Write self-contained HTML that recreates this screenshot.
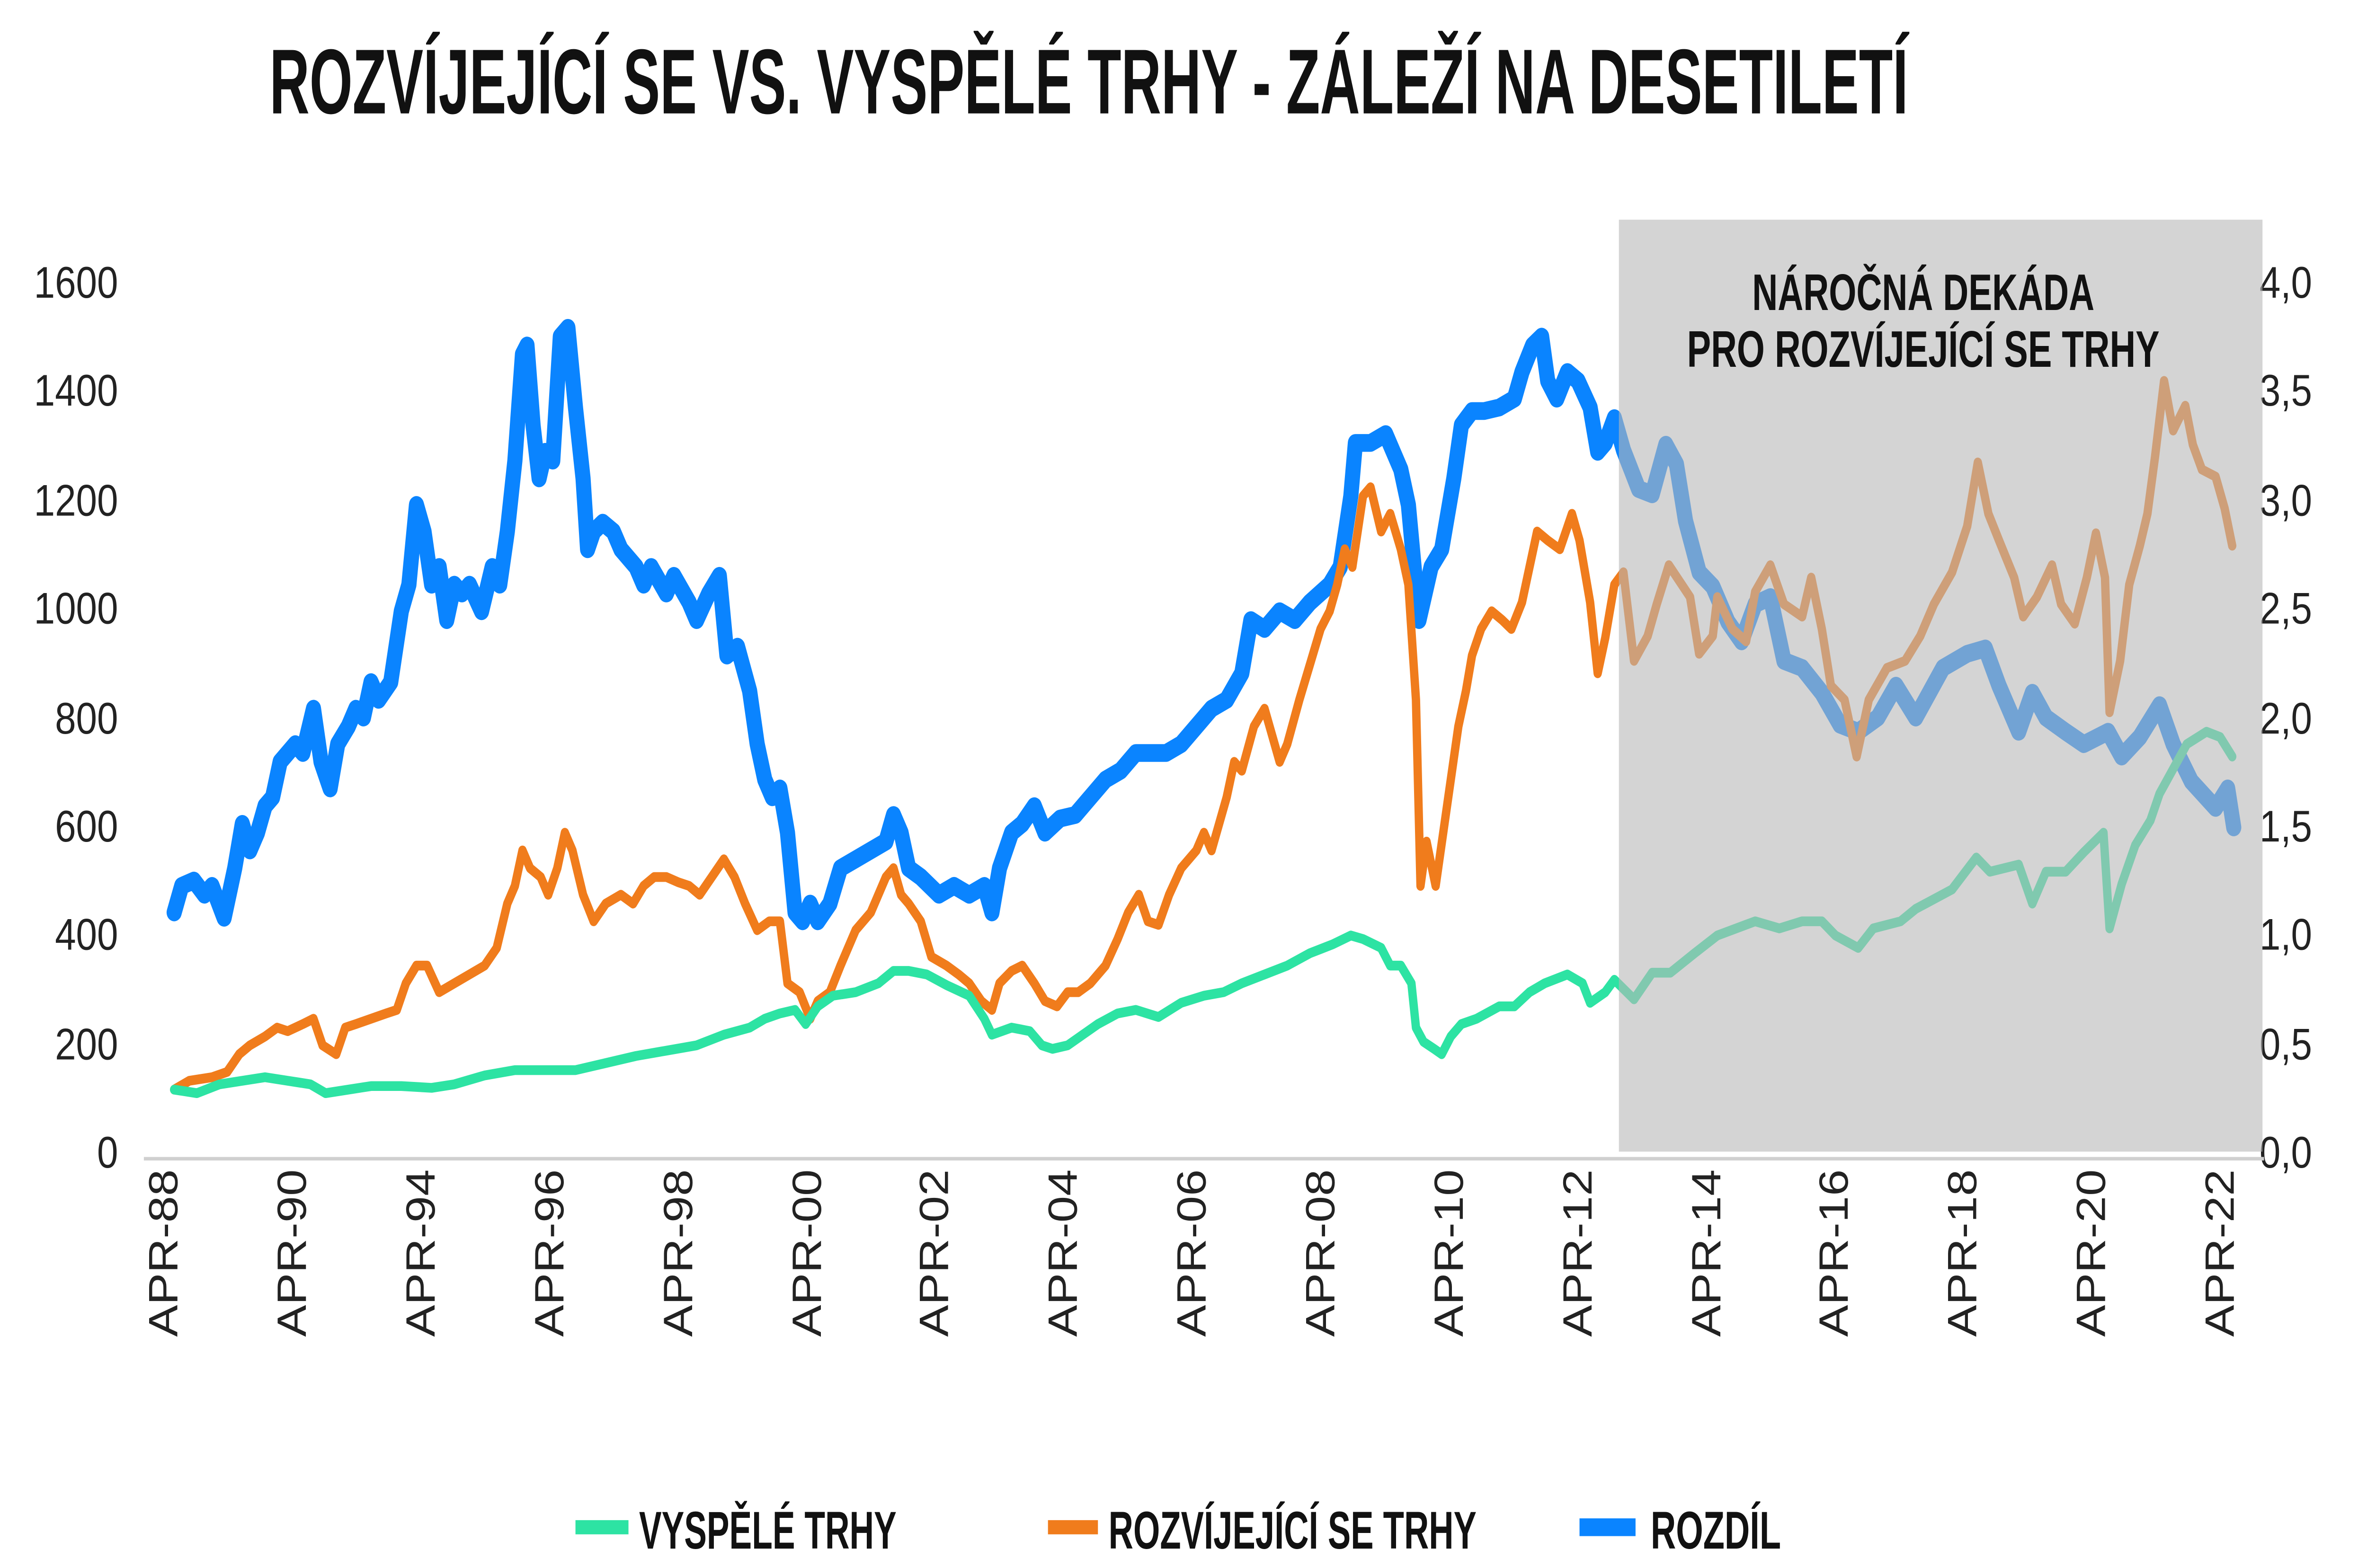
<!DOCTYPE html>
<html><head><meta charset="utf-8"><style>
html,body{margin:0;padding:0;background:#fff;width:100%;height:100%;overflow:hidden;}
svg{display:block;width:100vw;height:100vh;}
.t{font-family:"Liberation Sans","DejaVu Sans",sans-serif;fill:#222;}
.b{font-family:"Liberation Sans Narrow","Liberation Sans",sans-serif;font-weight:bold;fill:#111;}
</style></head><body>
<svg viewBox="0 0 1563 885" preserveAspectRatio="none" xmlns="http://www.w3.org/2000/svg">
<rect width="1563" height="885" fill="#fff"/>
<text class="b" x="178" y="64" font-size="52" textLength="1082" lengthAdjust="spacingAndGlyphs">ROZVÍJEJÍCÍ SE VS. VYSPĚLÉ TRHY - ZÁLEŽÍ NA DESETILETÍ</text>

<g class="t" font-size="25" text-anchor="end">
<text x="78" y="168">1600</text><text x="78" y="229">1400</text><text x="78" y="291">1200</text>
<text x="78" y="352">1000</text><text x="78" y="414">800</text><text x="78" y="475">600</text>
<text x="78" y="536">400</text><text x="78" y="598">200</text><text x="78" y="659">0</text>
</g>
<g class="t" font-size="25" text-anchor="start">
<text x="1492" y="168">4,0</text><text x="1492" y="229">3,5</text><text x="1492" y="291">3,0</text>
<text x="1492" y="352">2,5</text><text x="1492" y="414">2,0</text><text x="1492" y="475">1,5</text>
<text x="1492" y="536">1,0</text><text x="1492" y="598">0,5</text><text x="1492" y="659">0,0</text>
</g>

<g fill="none" stroke-linejoin="round" stroke-linecap="round">
<polyline stroke="#0a84ff" stroke-width="10" points="115,515 120,500 128,497 135,505 140,500 148,518 155,490 160,465 165,480 170,470 175,455 180,450 185,430 190,425 195,420 200,425 207,400 212,430 218,445 223,420 230,410 235,400 240,405 245,385 250,395 258,385 265,345 270,330 275,285 280,300 285,330 290,320 295,350 300,330 305,335 310,330 318,345 325,320 330,330 335,300 340,260 345,200 348,195 352,240 356,270 360,255 365,260 370,190 375,185 380,230 385,270 388,310 392,300 398,295 405,300 410,310 420,320 425,330 430,320 440,335 445,325 455,340 460,350 468,335 475,325 480,370 487,365 495,390 500,420 505,440 510,450 515,445 520,470 525,515 530,520 535,510 540,520 548,510 555,490 565,485 575,480 585,475 590,460 595,470 600,490 608,495 620,505 630,500 640,505 650,500 655,515 660,490 668,470 675,465 683,455 690,470 700,462 710,460 720,450 730,440 740,435 750,425 760,425 770,425 780,420 790,410 800,400 810,395 820,380 826,350 835,355 845,345 855,350 865,340 878,330 885,320 892,280 895,250 905,250 915,245 925,265 930,285 937,350 945,320 952,310 960,270 965,240 972,232 980,232 990,230 1000,225 1005,210 1012,195 1018,190 1022,215 1028,225 1035,210 1042,215 1050,230 1055,255 1060,250 1066,236 1072,254 1082,276 1091,279 1100,251 1107,262 1113,294 1122,323 1131,331 1141,351 1150,362 1159,341 1169,337 1178,373 1190,377 1203,391 1215,409 1227,413 1240,405 1252,387 1265,405 1283,377 1299,369 1311,366 1320,387 1333,413 1342,391 1351,405 1364,413 1376,420 1392,413 1401,427 1413,416 1426,398 1435,420 1447,441 1463,456 1471,445 1475,467"/>
<polyline stroke="#f07c1c" stroke-width="5.5" points="115,615 125,610 140,608 150,605 158,595 165,590 175,585 183,580 190,582 200,578 207,575 213,590 222,595 228,580 235,578 245,575 255,572 262,570 268,555 275,545 282,545 290,560 300,555 310,550 320,545 328,535 335,510 340,500 345,480 350,490 357,495 362,505 368,490 373,470 378,480 385,505 392,520 400,510 410,505 418,510 425,500 432,495 440,495 448,498 455,500 462,505 470,495 478,485 485,495 492,510 500,525 508,520 515,520 520,555 528,560 535,575 540,565 548,560 555,545 565,525 575,515 585,495 590,490 595,505 600,510 608,520 615,540 625,545 633,550 640,555 648,565 655,570 660,555 668,548 675,545 683,555 690,565 698,568 705,560 712,560 720,555 730,545 738,530 745,515 752,505 758,520 765,522 772,505 780,490 790,480 795,470 800,480 810,450 815,430 820,435 828,410 835,400 840,415 845,430 850,420 858,395 865,375 872,355 878,345 883,330 888,310 893,320 900,280 905,275 912,300 918,290 925,310 930,330 935,395 938,500 942,475 948,500 953,470 958,440 963,410 968,390 972,370 978,355 985,345 992,350 998,355 1005,340 1010,320 1015,300 1022,305 1030,310 1038,290 1043,305 1050,340 1055,380 1060,360 1066,330 1072,323 1079,373 1088,359 1094,341 1102,319 1116,337 1122,369 1131,359 1134,337 1144,355 1153,362 1159,334 1169,319 1178,341 1190,348 1196,326 1203,355 1209,387 1218,395 1226,427 1234,395 1246,377 1258,373 1268,359 1277,341 1289,323 1299,297 1306,261 1313,290 1320,305 1330,326 1336,348 1345,337 1355,319 1361,341 1370,352 1378,326 1384,301 1390,326 1393,402 1400,373 1406,330 1413,308 1418,290 1423,258 1429,215 1435,243 1443,229 1448,251 1454,265 1463,269 1469,287 1474,308"/>
<polyline stroke="#2de3a3" stroke-width="5.5" points="115,615 130,617 145,612 160,610 175,608 190,610 205,612 215,617 230,615 245,613 265,613 285,614 300,612 320,607 340,604 360,604 380,604 400,600 420,596 440,593 460,590 478,584 495,580 505,575 515,572 525,570 532,578 540,568 550,562 565,560 580,555 590,548 600,548 612,550 625,556 640,562 650,575 655,584 668,580 680,582 688,590 695,592 705,590 715,584 725,578 738,572 750,570 765,574 780,566 795,562 808,560 820,555 835,550 850,545 865,538 880,533 892,528 900,530 912,535 918,545 925,545 932,555 935,580 940,588 947,592 952,595 958,585 965,578 975,575 990,568 1000,568 1010,560 1020,555 1035,550 1045,555 1050,566 1060,560 1066,553 1079,564 1091,549 1103,549 1119,538 1134,528 1159,520 1175,524 1190,520 1203,520 1212,528 1227,535 1237,524 1255,520 1265,513 1289,502 1305,484 1314,492 1333,488 1342,510 1351,492 1364,492 1376,481 1389,470 1393,524 1401,499 1410,477 1420,463 1426,448 1435,434 1444,420 1457,413 1466,416 1474,427"/>
</g>

<rect x="1069" y="124" width="425" height="526" fill="#b8b8b8" opacity="0.6"/>
<text class="b" x="1270" y="175" font-size="29" text-anchor="middle" textLength="226" lengthAdjust="spacingAndGlyphs">NÁROČNÁ DEKÁDA</text>
<text class="b" x="1270" y="207" font-size="29" text-anchor="middle" textLength="312" lengthAdjust="spacingAndGlyphs">PRO ROZVÍJEJÍCÍ SE TRHY</text>

<line x1="95" y1="654" x2="1495" y2="654" stroke="#d0d0d0" stroke-width="2"/>

<g class="t" font-size="27" text-anchor="end">
<text transform="translate(117,660) rotate(-90)">APR-88</text>
<text transform="translate(202,660) rotate(-90)">APR-90</text>
<text transform="translate(287,660) rotate(-90)">APR-94</text>
<text transform="translate(372,660) rotate(-90)">APR-96</text>
<text transform="translate(457,660) rotate(-90)">APR-98</text>
<text transform="translate(542,660) rotate(-90)">APR-00</text>
<text transform="translate(626,660) rotate(-90)">APR-02</text>
<text transform="translate(711,660) rotate(-90)">APR-04</text>
<text transform="translate(796,660) rotate(-90)">APR-06</text>
<text transform="translate(881,660) rotate(-90)">APR-08</text>
<text transform="translate(966,660) rotate(-90)">APR-10</text>
<text transform="translate(1051,660) rotate(-90)">APR-12</text>
<text transform="translate(1136,660) rotate(-90)">APR-14</text>
<text transform="translate(1220,660) rotate(-90)">APR-16</text>
<text transform="translate(1305,660) rotate(-90)">APR-18</text>
<text transform="translate(1390,660) rotate(-90)">APR-20</text>
<text transform="translate(1475,660) rotate(-90)">APR-22</text>
</g>

<line x1="380" y1="862" x2="415" y2="862" stroke="#2de3a3" stroke-width="8"/>
<text class="b" x="422" y="874" font-size="30" textLength="170" lengthAdjust="spacingAndGlyphs">VYSPĚLÉ TRHY</text>
<line x1="692" y1="862" x2="725" y2="862" stroke="#f07c1c" stroke-width="8"/>
<text class="b" x="732" y="874" font-size="30" textLength="243" lengthAdjust="spacingAndGlyphs">ROZVÍJEJÍCÍ SE TRHY</text>
<line x1="1043" y1="862" x2="1080" y2="862" stroke="#0a84ff" stroke-width="10"/>
<text class="b" x="1090" y="874" font-size="30" textLength="86" lengthAdjust="spacingAndGlyphs">ROZDÍL</text>
</svg>
</body></html>
